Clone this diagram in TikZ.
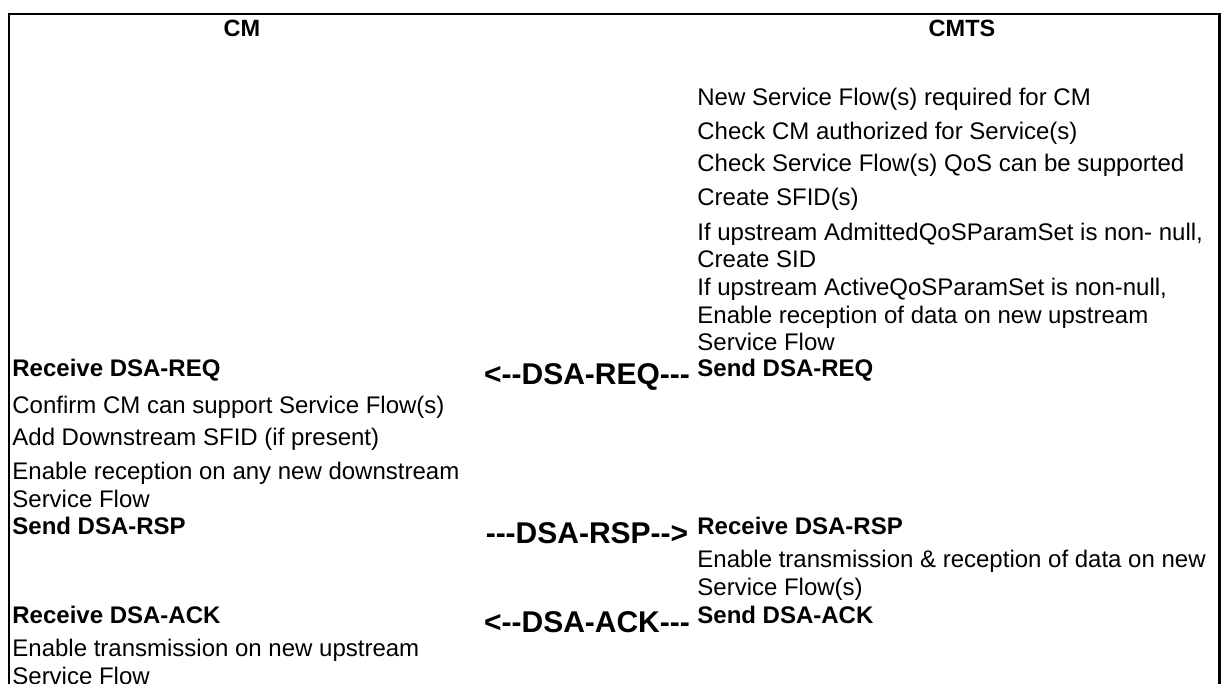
\documentclass[tikz,border=0pt]{standalone}
\usepackage{fontspec}
\setmainfont{Liberation Sans}
\usetikzlibrary{positioning}
\newcommand{\flines}[1]{\begin{tabular}[t]{@{}l@{}}#1\end{tabular}}
\newcommand{\hy}{\mbox{-}}

\begin{document}
\begin{tikzpicture}[
  x=0.5pt, y=-0.5pt,
  txt/.style={
    anchor=base west, inner sep=0pt,
    font=\fontsize{12}{13.75}\selectfont
  },
  act/.style={txt, font=\fontsize{12}{13.75}\selectfont\bfseries},
  hdr/.style={anchor=base, inner sep=0pt, font=\fontsize{11.75}{13.75}\selectfont\bfseries},
  msg/.style={anchor=base, inner sep=0pt, font=\fontsize{15}{17}\selectfont\bfseries},
  frame/.style={line width=1.3pt}
]
\def\xl{12}   % CM column
\def\xr{697}  % CMTS column
\def\xm{587}  % messages in between

\useasboundingbox (0,0) rectangle (1221,684);

% --- Frame ---
\draw[frame] (9,684) -- (9,14) -- (1219.5,14) -- (1219.5,684);

% --- Headers ---
\node[hdr] (cm) at (242,36.5) {CM};
\node[hdr] (cmts) at (962,36.5) {CMTS};

% --- CMTS side ---
\foreach \yb/\itm [count=\i] in {
  105.5/{New Service Flow(s) required for CM},
  139.5/{Check CM authorized for Service(s)},
  171.5/{Check Service Flow(s) QoS can be supported},
  205.5/{Create SFID(s)},
  240.5/{\flines{If upstream AdmittedQoSParamSet is non- null,\\Create SID}},
  295.5/{\flines{If upstream ActiveQoSParamSet is non-null,\\Enable reception of data on new upstream\\Service Flow}},
  567.5/{\flines{Enable transmission \& reception of data on new\\Service Flow(s)}}
} {
  \node[txt] (r\i) at (\xr,\yb) {\itm};
}

% --- CM side ---
\foreach \yb/\itm [count=\i] in {
  413.5/{Confirm CM can support Service Flow(s)},
  445.5/{Add Downstream SFID (if present)},
  479.5/{\flines{Enable reception on any new downstream\\Service Flow}},
  656.5/{\flines{Enable transmission on new upstream\\Service Flow}}
} {
  \node[txt] (l\i) at (\xl,\yb) {\itm};
}

% --- Messages ---
\node[act] (cmreq) at (\xl,376.5) {Receive DSA-REQ};
\node[msg] (req) at (\xm,385) {<\hy\hy DSA-REQ\hy\hy\hy};
\node[act] (cmtsreq) at (\xr,376.5) {Send DSA-REQ};

\node[act] (cmrsp) at (\xl,534) {Send DSA-RSP};
\node[msg] (rsp) at (\xm,543) {\hy\hy\hy DSA-RSP\hy\hy>};
\node[act] (cmtsrsp) at (\xr,534) {Receive DSA-RSP};

\node[act] (cmack) at (\xl,623.5) {Receive DSA-ACK};
\node[msg] (ack) at (\xm,632) {<\hy\hy DSA-ACK\hy\hy\hy};
\node[act] (cmtsack) at (\xr,623.5) {Send DSA-ACK};

\end{tikzpicture}
\end{document}
